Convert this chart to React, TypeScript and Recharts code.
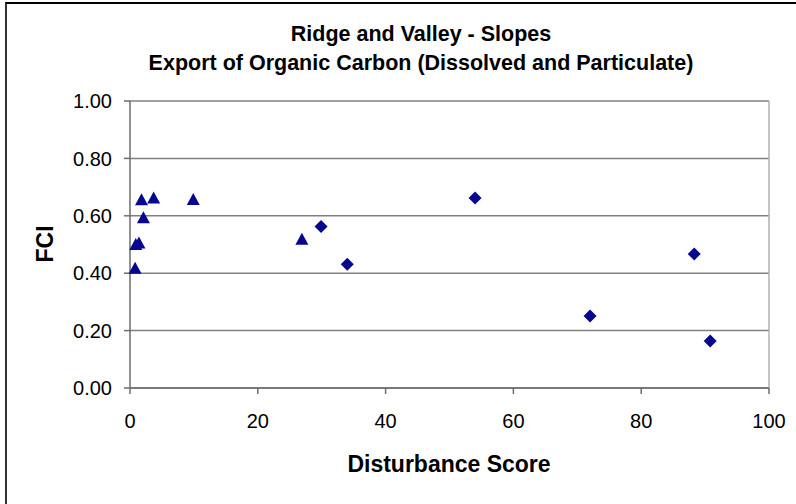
import React from 'react';
import {
  ScatterChart,
  Scatter,
  XAxis,
  YAxis,
  CartesianGrid,
  ReferenceLine,
  Customized
} from 'recharts';

// disturbance score / FCI readings
const triangleX = [0.8, 0.9, 1.4, 2.1, 1.8, 3.7, 9.9, 26.9];
const triangleY = [0.417, 0.5, 0.505, 0.593, 0.656, 0.662, 0.657, 0.518];
const diamondX = [29.9, 34.0, 54.0, 72.0, 88.3, 90.8];
const diamondY = [0.563, 0.431, 0.662, 0.251, 0.467, 0.164];

const xTicks = [0, 20, 40, 60, 80, 100];
const yTicks = [0, 0.2, 0.4, 0.6, 0.8, 1.0];

const titleLines = ['Ridge and Valley - Slopes', 'Export of Organic Carbon (Dissolved and Particulate)'];
const xTitle = 'Disturbance Score';
const yTitle = 'FCI';

const triangles = triangleX.map((x, i) => ({ x, y: triangleY[i] }));
const diamonds = diamondX.map((x, i) => ({ x, y: diamondY[i] }));

const MARK = '#06068f';
const FONT = '"Liberation Sans", Arial, sans-serif';

const Triangle = (props: any) => {
  const { cx, cy } = props;
  return <path d={`M${cx},${cy - 6.5} L${cx + 6.5},${cy + 5.5} L${cx - 6.5},${cy + 5.5} Z`} fill={MARK} />;
};

const Diamond = (props: any) => {
  const { cx, cy } = props;
  return <path d={`M${cx},${cy - 6.5} L${cx + 6.5},${cy} L${cx},${cy + 6.5} L${cx - 6.5},${cy} Z`} fill={MARK} />;
};

const Texts = () => (
  <g fontFamily={FONT} fontWeight="bold" fill="#000">
    <text x={421} y={41} textAnchor="middle" fontSize={21.5}>{titleLines[0]}</text>
    <text x={421} y={70} textAnchor="middle" fontSize={21.5}>{titleLines[1]}</text>
    <text x={449} y={472} textAnchor="middle" fontSize={23}>{xTitle}</text>
    <text x={53} y={244} textAnchor="middle" fontSize={23} transform="rotate(-90 53 244)">{yTitle}</text>
  </g>
);

const App = () => {
  return (
    <div style={{ position: 'absolute', top: 0, left: 0, width: 796, height: 504, background: '#fff' }}>
      <div
        style={{
          position: 'absolute',
          top: 2,
          left: 5,
          width: 791,
          height: 502,
          borderTop: '2px solid #000',
          borderLeft: '2px solid #333',
          boxSizing: 'border-box',
          pointerEvents: 'none'
        }}
      />
      <ScatterChart width={796} height={504} margin={{ top: 101, right: 27, bottom: 0, left: 0 }}>
        <CartesianGrid horizontal vertical={false} stroke="#808080" strokeWidth={1.5} />
        <ReferenceLine x={100} stroke="#b0b0b0" strokeWidth={1.5} />
        <XAxis
          type="number"
          dataKey="x"
          domain={[0, 100]}
          ticks={xTicks}
          height={116}
          tickSize={6}
          tickMargin={20}
          stroke="#6d6d6d"
          strokeWidth={1.5}
          tick={{ fontSize: 20, fill: '#000', fontFamily: FONT }}
        />
        <YAxis
          type="number"
          dataKey="y"
          domain={[0, 1]}
          ticks={yTicks}
          width={130}
          tickSize={6}
          tickMargin={12}
          stroke="#6d6d6d"
          strokeWidth={1.5}
          tickFormatter={(v: number) => v.toFixed(2)}
          tick={{ fontSize: 20, fill: '#000', fontFamily: FONT }}
        />
        <Scatter data={triangles} shape={Triangle} isAnimationActive={false} />
        <Scatter data={diamonds} shape={Diamond} isAnimationActive={false} />
        <Customized component={Texts} />
      </ScatterChart>
    </div>
  );
};

export default App;
